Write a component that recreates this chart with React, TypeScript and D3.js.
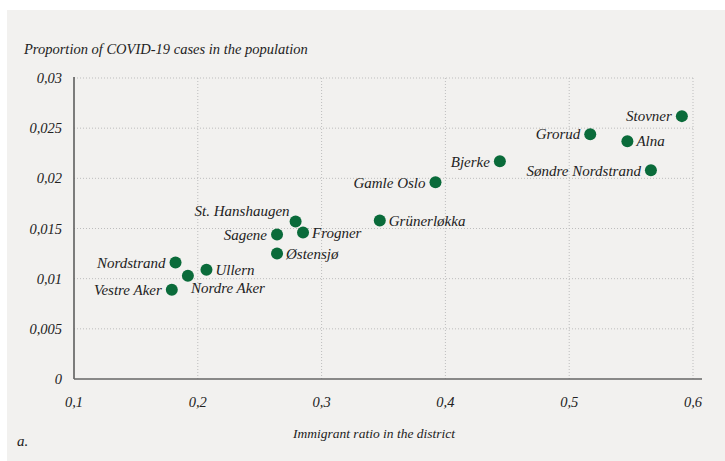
import * as d3 from "d3";

const districts = [
  "Stovner", "Grorud", "Alna", "Bjerke", "Søndre Nordstrand", "Gamle Oslo",
  "St. Hanshaugen", "Frogner", "Sagene", "Østensjø", "Grünerløkka",
  "Ullern", "Nordstrand", "Nordre Aker", "Vestre Aker",
];
const immigrantRatio = [
  0.591, 0.517, 0.547, 0.444, 0.566, 0.392,
  0.279, 0.285, 0.264, 0.264, 0.347,
  0.207, 0.182, 0.192, 0.179,
];
const covidShare = [
  0.0262, 0.0244, 0.0237, 0.0217, 0.0208, 0.0196,
  0.0157, 0.0146, 0.0144, 0.0125, 0.0158,
  0.0109, 0.0116, 0.0103, 0.0089,
];
// where the name sits relative to its dot
const labelSide = [
  "left", "left", "right", "left", "left", "left",
  "above", "right", "left", "right", "right",
  "right", "left", "below", "left",
];
const xTicks = [0.1, 0.2, 0.3, 0.4, 0.5, 0.6];
const yTicks = [0, 0.005, 0.01, 0.015, 0.02, 0.025, 0.03];

const W = 725;
const H = 461;
const FONT = "'Liberation Serif', serif";
const GREEN = "#0a6b3a";

const x = d3.scaleLinear().domain([0.1, 0.6]).range([74, 693]);
const y = d3.scaleLinear().domain([0, 0.03]).range([379, 78]);
const fmt = (v: number) => String(v).replace(".", ",");

export default function App() {
  const pts = districts.map((name, i) => ({
    name,
    px: x(immigrantRatio[i]),
    py: y(covidShare[i]),
    side: labelSide[i],
  }));

  return (
    <svg
      width={W}
      height={H}
      style={{ position: "absolute", left: 0, top: 0, display: "block" }}
      fontFamily={FONT}
      fontStyle="italic"
    >
      <rect x={0} y={0} width={W} height={H} fill="#fff" />
      <rect x={7} y={10} width={W - 7} height={H - 10} fill="#f2f1ef" />

      <text x={24} y={54} fontSize={14.5} fill="#222">
        Proportion of COVID-19 cases in the population
      </text>

      {/* grid */}
      {yTicks.slice(1).map((t) => (
        <line
          key={"gy" + t}
          x1={x(0.1)}
          x2={x(0.6)}
          y1={y(t)}
          y2={y(t)}
          stroke="#bdbdbd"
          strokeDasharray="1,2"
        />
      ))}
      {xTicks.slice(1).map((t) => (
        <line
          key={"gx" + t}
          x1={x(t)}
          x2={x(t)}
          y1={y(0.03)}
          y2={y(0)}
          stroke="#bdbdbd"
          strokeDasharray="1,2"
        />
      ))}

      {/* axes */}
      <line x1={x(0.1)} x2={x(0.1)} y1={y(0.03) - 1} y2={y(0)} stroke="#555" strokeWidth={1.5} />
      <line x1={x(0.1)} x2={702} y1={y(0)} y2={y(0)} stroke="#666" strokeWidth={1.5} />

      {yTicks.map((t) => (
        <text
          key={"ty" + t}
          x={62}
          y={y(t)}
          dy="0.35em"
          textAnchor="end"
          fontSize={14.5}
          fill="#222"
        >
          {fmt(t)}
        </text>
      ))}
      {xTicks.map((t) => (
        <text
          key={"tx" + t}
          x={x(t)}
          y={402}
          dy="0.35em"
          textAnchor="middle"
          fontSize={14.5}
          fill="#222"
        >
          {fmt(t)}
        </text>
      ))}

      <text x={374} y={433} dy="0.35em" textAnchor="middle" fontSize={13.5} fill="#222">
        Immigrant ratio in the district
      </text>
      <text x={17} y={441} dy="0.35em" fontSize={15} fill="#222">
        a.
      </text>

      {pts.map((p) => (
        <circle key={p.name} cx={p.px} cy={p.py} r={6} fill={GREEN} />
      ))}
      {pts.map((p) => {
        let tx = p.px;
        let ty = p.py;
        let anchor = "start";
        if (p.side === "left") {
          tx = p.px - 10;
          anchor = "end";
        } else if (p.side === "right") {
          tx = p.px + 9;
        } else if (p.side === "above") {
          tx = p.px - 6;
          ty = p.py - 11;
          anchor = "end";
        } else {
          tx = p.px + 3;
          ty = p.py + 12;
        }
        return (
          <text
            key={"l" + p.name}
            x={tx}
            y={ty}
            dy="0.35em"
            textAnchor={anchor}
            fontSize={15}
            fill="#222"
          >
            {p.name}
          </text>
        );
      })}
    </svg>
  );
}
